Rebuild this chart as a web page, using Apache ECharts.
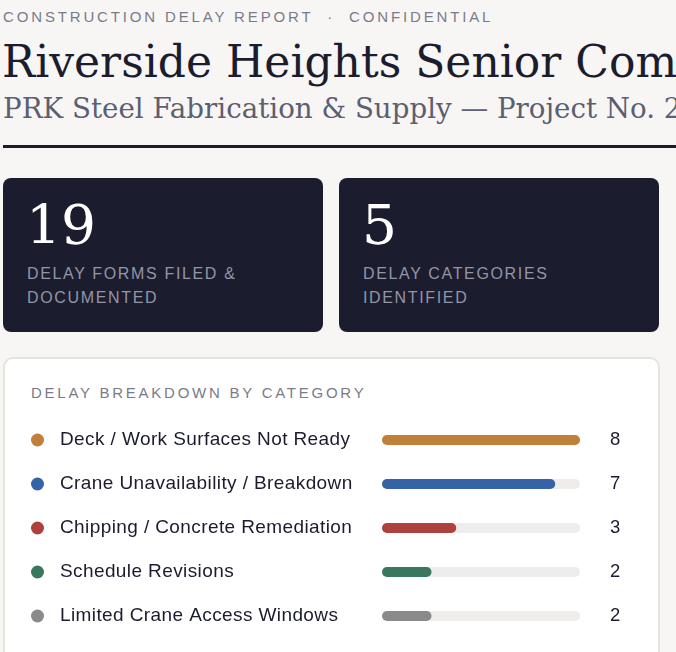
<!DOCTYPE html>
<html><head><meta charset="utf-8">
<script src="https://cdn.jsdelivr.net/npm/echarts@6/dist/echarts.min.js"></script>
<style>
html,body{margin:0;padding:0;width:676px;height:652px;overflow:hidden;background:#f7f6f4;}
.abs{position:absolute;white-space:nowrap;}
.eyebrow{left:3px;top:8px;font:15px "Liberation Sans",Arial,sans-serif;letter-spacing:2.85px;color:#7a7b8a;line-height:18px;}
.title{left:2px;top:36px;font:44px "DejaVu Serif",serif;color:#1b1c2e;line-height:52px;}
.sub{left:3px;top:92px;font:27.7px "DejaVu Serif",serif;color:#5c5e72;line-height:34px;}
.rule{left:3px;top:145px;width:700px;height:3px;background:#1b1c2e;}
.card{position:absolute;top:178px;width:320px;height:154px;background:#1b1c2e;border-radius:8px;}
.num{position:absolute;left:23px;top:17px;font:55px "DejaVu Serif",serif;color:#fff;line-height:60px;}
.lab{position:absolute;left:24px;top:84px;font:16px "Liberation Sans",Arial,sans-serif;letter-spacing:1.65px;color:#9495a6;line-height:24px;}
.panel{position:absolute;left:3px;top:357px;width:657px;height:320px;background:#fff;border:2px solid #e5e3de;border-radius:10px;box-sizing:border-box;}
.ptitle{left:31px;top:384px;font:15px "Liberation Sans",Arial,sans-serif;letter-spacing:2.75px;color:#7a7b8a;line-height:18px;}
#chart{position:absolute;left:5px;top:400px;width:651px;height:252px;}
</style></head>
<body>
<div class="abs eyebrow">CONSTRUCTION DELAY REPORT &nbsp;·&nbsp; CONFIDENTIAL</div>
<div class="abs title">Riverside Heights Senior Community</div>
<div class="abs sub">PRK Steel Fabrication &amp; Supply — Project No. 2024-118</div>
<div class="abs rule"></div>
<div class="card" style="left:3px"><div class="num">19</div><div class="lab">DELAY FORMS FILED &amp;<br>DOCUMENTED</div></div>
<div class="card" style="left:339px"><div class="num">5</div><div class="lab">DELAY CATEGORIES<br>IDENTIFIED</div></div>
<div class="card" style="left:676px"></div>
<div class="panel"></div>
<div class="abs ptitle">DELAY BREAKDOWN BY CATEGORY</div>
<div id="chart"></div>
<script>
const categories = ["Deck / Work Surfaces Not Ready","Crane Unavailability / Breakdown","Chipping / Concrete Remediation","Schedule Revisions","Limited Crane Access Windows"];
const counts = [8,7,3,2,2];
const colors = ["#c0803a","#3563a6","#ae413d","#3a785e","#8a8a8a"];
const maxCount = 8;

const chart = echarts.init(document.getElementById('chart'));
const FONT = '"Liberation Sans",Arial,sans-serif';
const rich = {name:{fontFamily:FONT,fontSize:19,color:'#1b1c2e',padding:[0,0,0,16]}};
colors.forEach((c,i)=>{rich['d'+i]={width:13,height:13,borderRadius:6.5,backgroundColor:c};});
chart.setOption({
  animation:false,
  grid:{left:377,right:76,top:18,height:220},
  xAxis:{type:'value',min:0,max:maxCount,show:false},
  yAxis:[{type:'category',inverse:true,data:categories,axisLine:{show:false},axisTick:{show:false},
    axisLabel:{align:'left',margin:351,formatter:(v,i)=>'{d'+i+'| }{name|'+v+'}',rich:rich}},
   {type:'category',inverse:true,position:'right',data:counts.map(String),axisLine:{show:false},axisTick:{show:false},
    axisLabel:{margin:30,align:'left',fontFamily:FONT,fontSize:18.5,color:'#1b1c2e'}}],
  series:[{type:'bar',barWidth:10,data:counts.map((v,i)=>({value:v,itemStyle:{color:colors[i]}})),
    itemStyle:{borderRadius:5},showBackground:true,backgroundStyle:{color:'#eeedeb',borderRadius:5}}]
});
// slight tracking on the category labels, as in the reference
(function applyTracking(){
  const cvs = document.querySelectorAll('#chart canvas');
  let ok = false;
  cvs.forEach(cv=>{const ctx = cv.getContext('2d'); if ('letterSpacing' in ctx){ ctx.letterSpacing = '0.4px'; ok = true;}});
  if (ok) {
    const zr = chart.getZr();
    try { zr.painter.refresh(true); } catch(e) { zr.refreshImmediately(); }
  }
})();
</script>
</body></html>
